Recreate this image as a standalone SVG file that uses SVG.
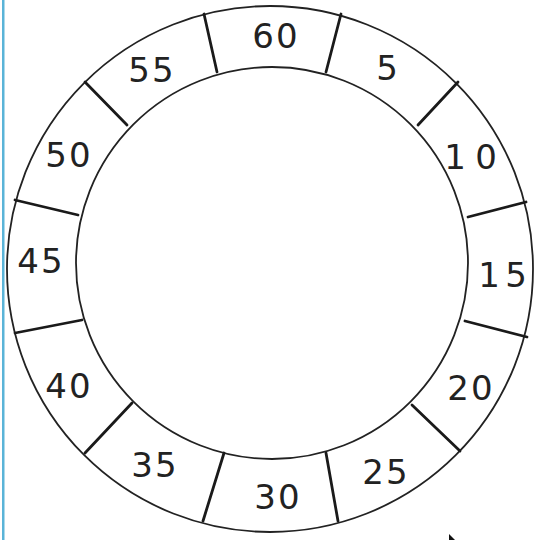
<svg xmlns="http://www.w3.org/2000/svg" width="536" height="540" viewBox="0 0 536 540">
<style>
.ring{fill:none;stroke:#222;stroke-width:1.8}
.div{stroke:#1a1a1a;stroke-width:2.8;stroke-linecap:round}
.lbl{font-family:"DejaVu Sans",Arial,sans-serif;font-size:34px;fill:#222;text-anchor:middle;letter-spacing:2px}
</style>
<rect width="536" height="540" fill="#fff"/>
<rect x="2" y="0" width="2.5" height="540" fill="#5ab4d8"/>
<g id="ring">
<circle class="ring" cx="270" cy="269" r="263"/>
<circle class="ring" cx="272" cy="263" r="196"/>
</g>
<g id="connectors">
<line class="div" x1="204" y1="14" x2="217" y2="72"/>
<line class="div" x1="341" y1="14" x2="326" y2="72"/>
<line class="div" x1="458" y1="82" x2="418" y2="125"/>
<line class="div" x1="526" y1="202" x2="468" y2="217"/>
<line class="div" x1="465" y1="321" x2="527" y2="337"/>
<line class="div" x1="412" y1="405" x2="460" y2="451"/>
<line class="div" x1="326" y1="453" x2="338" y2="521"/>
<line class="div" x1="224" y1="453" x2="203" y2="521"/>
<line class="div" x1="132" y1="403" x2="85" y2="453"/>
<line class="div" x1="82" y1="320" x2="15" y2="333"/>
<line class="div" x1="78" y1="215" x2="15" y2="200"/>
<line class="div" x1="127" y1="125" x2="85" y2="82"/>
</g>
<g id="n60"><text class="lbl" x="276" y="48">60</text></g>
<g id="n5"><text class="lbl" x="388" y="80">5</text></g>
<g id="n10"><text class="lbl"><tspan x="456" y="169">1</tspan><tspan x="487" y="169">0</tspan></text></g>
<g id="n15"><text class="lbl"><tspan x="490" y="287">1</tspan><tspan x="517" y="287">5</tspan></text></g>
<g id="n20"><text class="lbl" x="471" y="400">20</text></g>
<g id="n25"><text class="lbl" x="386" y="484">25</text></g>
<g id="n30"><text class="lbl" x="278" y="509">30</text></g>
<g id="n35"><text class="lbl" x="155" y="477">35</text></g>
<g id="n40"><text class="lbl" x="69" y="398">40</text></g>
<g id="n45"><text class="lbl" x="41" y="273">45</text></g>
<g id="n50"><text class="lbl" x="69" y="167">50</text></g>
<g id="n55"><text class="lbl" x="152" y="82">55</text></g>
<polygon points="449,534 449,540 452,540 455,540" fill="#111"/>
</svg>
